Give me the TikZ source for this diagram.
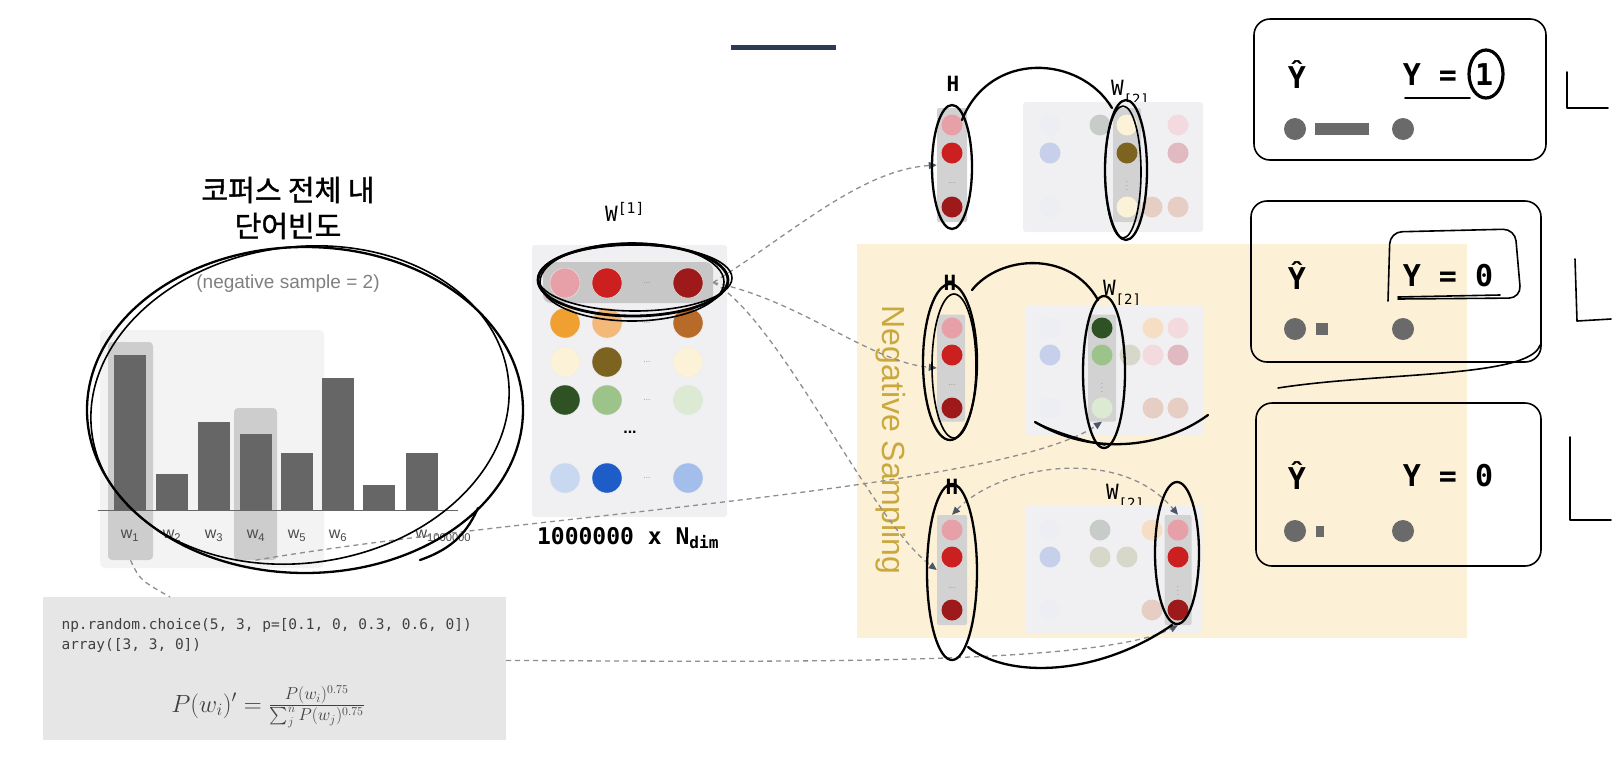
\documentclass[tikz,border=0pt]{standalone}
\usepackage{fontspec}
\setmainfont{Liberation Sans}
\setmonofont{DejaVu Sans Mono}
\newfontfamily\krfont[FakeBold=1.3]{Noto Sans CJK KR}
\usepackage{amsmath}
\usetikzlibrary{arrows.meta}

\definecolor{barc}{HTML}{666666}
\definecolor{hlc}{HTML}{CDCDCD}
\definecolor{histbg}{HTML}{F3F3F3}
\definecolor{matc}{HTML}{F0F0F2}
\definecolor{colc}{HTML}{D2D2D2}
\definecolor{yel}{HTML}{FCF1D6}
\definecolor{nsc}{HTML}{C9A83E}
\definecolor{codebg}{HTML}{E6E6E6}
\definecolor{linkc}{HTML}{8E8E8E}
\definecolor{tipc}{HTML}{4C5666}
\definecolor{outc}{HTML}{6A6A6A}
\definecolor{navy}{HTML}{2C3A55}
% vector colours
\definecolor{pk}{HTML}{E8A0A8}
\definecolor{rd}{HTML}{CC2020}
\definecolor{dr}{HTML}{9E1A1A}
\definecolor{org}{HTML}{F0A030}
\definecolor{lo}{HTML}{F4B878}
\definecolor{brn}{HTML}{B86A28}
\definecolor{cr}{HTML}{FCF2D8}
\definecolor{ol}{HTML}{7C6420}
\definecolor{dg}{HTML}{2E5224}
\definecolor{lg}{HTML}{9CC48A}
\definecolor{pg}{HTML}{DCEAD4}
\definecolor{lb}{HTML}{C8D8F0}
\definecolor{bl}{HTML}{1E5CC8}
\definecolor{mb}{HTML}{A4BEEC}
% faded colours
\definecolor{fa}{HTML}{ECEEF4}
\definecolor{fb}{HTML}{C6D0EA}
\definecolor{fc}{HTML}{C8CCC8}
\definecolor{fd}{HTML}{E6CEC4}
\definecolor{fe}{HTML}{F2DADF}
\definecolor{ff}{HTML}{E0B9C1}
\definecolor{fg}{HTML}{F6DEC4}
\definecolor{fi}{HTML}{D8D8CA}

\begin{document}
\begin{tikzpicture}[x=1pt, y=-1pt, font=\fontsize{14}{16}\selectfont,
  bar/.style={fill=barc},
  hilite/.style={fill=hlc, rounded corners=4pt, inner sep=0pt},
  bigdot/.style={circle, minimum size=30pt, inner sep=0pt, draw=black!8},
  smdot/.style={circle, minimum size=21pt, inner sep=0pt},
  outdot/.style={circle, fill=outc, minimum size=22pt, inner sep=0pt},
  col/.style={fill=colc, inner sep=0pt, rounded corners=2pt},
  lbl/.style={font=\ttfamily\fontsize{21}{21}\selectfont},
  outlbl/.style={font=\ttfamily\bfseries\fontsize{30}{30}\selectfont},
  tiny/.style={text=black!45, font=\fontsize{8}{8}\selectfont},
  link/.style={draw=linkc, dash pattern=on 5pt off 4pt, line width=1.3pt},
  tip/.style={-{Triangle[length=8pt, width=7pt, color=tipc]}},
  hand/.style={draw=black, line width=2.3pt, line cap=round, line join=round}]

\useasboundingbox (0,0) rectangle (1614,756);
\fill[white] (0,0) rectangle (1614,756);
\fill[navy] (731,45) rectangle (836,50);

% ---- word frequency ---------------------------------------------------------------
\node[font=\krfont\fontsize{29}{36}\selectfont, align=center] (title) at (288,208)
  {코퍼스 전체 내\\단어빈도};
\node[text=black!50, font=\fontsize{19}{19}\selectfont] (neg) at (288,284) {(negative sample = 2)};
\fill[histbg, rounded corners=5pt] (100,330) rectangle (324,568);
\node[hilite, minimum width=45pt, minimum height=218pt] (hl1) at (130.5,451) {};
\node[hilite, minimum width=43pt, minimum height=152pt] (hl4) at (255.5,484) {};
\foreach \x/\t in {114/355,156/474,198/422,240/434,281/453,322/378,363/485,406/453}
  \fill[bar] (\x,\t) rectangle (\x+32,510);
\draw[barc, line width=1pt] (98,510) -- (458,510);
\foreach \x/\i in {130/1,172/2,214/3,256/4,297/5,338/6}
  \node[text=black!70, font=\fontsize{16}{16}\selectfont] at (\x,536) {w\textsubscript{\i}};
\node[text=black!70, anchor=west, font=\fontsize{16}{16}\selectfont] at (412,536) {w\textsubscript{1000000}};

% ---- sampling code -----------------------------------------------------------------
\node[fill=codebg, minimum width=463pt, minimum height=143pt, inner sep=0pt] (code) at (274.5,668.5) {};
\node[anchor=west, text=black!75, font=\ttfamily\fontsize{14.5}{14.5}\selectfont] at (58,625)
  {np.random.choice(5, 3, p=[0.1, 0, 0.3, 0.6, 0])};
\node[anchor=west, text=black!75, font=\ttfamily\fontsize{14.5}{14.5}\selectfont] at (58,645)
  {array([3, 3, 0])};
\node[text=black!75, font=\fontsize{24}{24}\selectfont] at (268,707)
  {$P(w_i)' = \frac{P(w_i)^{0.75}}{\sum_j^n P(w_j)^{0.75}}$};
\coordinate (codein) at (170,597);

% ---- W[1] --------------------------------------------------------------------------
\node[lbl] (w1lbl) at (625,212) {W\textsuperscript{[1]}};
\fill[matc, rounded corners=3pt] (532,245) rectangle (727,517);
\node[fill=black!22, rounded corners=8pt, minimum width=170pt, minimum height=41pt] (row1) at (628,282.5) {};
\foreach \y/\a/\b/\c in {283/pk/rd/dr,323/org/lo/brn,362/cr/ol/cr,400/dg/lg/pg,478/lb/bl/mb} {
  \node[bigdot, fill=\a] at (565,\y) {};
  \node[bigdot, fill=\b] at (607,\y) {};
  \node[bigdot, fill=\c] at (688,\y) {};
  \node[tiny] at (647,\y) {...};
}
\node[font=\bfseries\fontsize{16}{16}\selectfont] at (630,432) {...};
\node[font=\ttfamily\bfseries\fontsize{23}{23}\selectfont] (dim) at (628,538) {1000000 x N\textsubscript{dim}};

% ---- negative sampling -------------------------------------------------------------
\fill[yel] (857,244) rectangle (1467,638);
\node[rotate=-90, text=nsc, font=\fontsize{32}{32}\selectfont] (ns) at (891,440) {Negative Sampling};

% row A
\node[lbl, font=\ttfamily\bfseries\fontsize{21}{21}\selectfont] at (953,84) {H};
\node[lbl] at (1130,93) {W\raisebox{-9pt}{\fontsize{14}{14}\selectfont[2]}};
\fill[matc, rounded corners=3pt] (1023,102) rectangle (1203,232);
\node[col, minimum width=30pt, minimum height=114pt] (hA) at (952,165) {};
\node[col, minimum width=28pt, minimum height=114pt] (wA) at (1127,165) {};
\foreach \x/\y/\c in {1050/125/fa,1050/153/fb,1050/207/fa,1100/125/fc,1152/207/fd,1178/125/fe,1178/153/ff,1178/207/fd}
  \node[smdot, fill=\c] at (\x,\y) {};
\foreach \y/\a/\b in {125/pk/cr,153/rd/ol,207/dr/cr} {
  \node[smdot, fill=\a] at (952,\y) {};
  \node[smdot, fill=\b] at (1127,\y) {};
}
\node[tiny] at (952,183) {...};
\node[tiny] at (1127,183) {$\vdots$};

% row B
\node[lbl, font=\ttfamily\bfseries\fontsize{21}{21}\selectfont] at (950,283) {H};
\node[lbl] at (1122,293) {W\raisebox{-9pt}{\fontsize{14}{14}\selectfont[2]}};
\fill[matc, rounded corners=3pt] (1025,305) rectangle (1203,435);
\node[col, minimum width=28pt, minimum height=107pt] (hB) at (951,368) {};
\node[col, minimum width=28pt, minimum height=107pt] (wB) at (1102,368) {};
\foreach \x/\y/\c in {1050/328/fa,1050/355/fb,1050/408/fa,1130/355/fi,1153/328/fg,1153/355/fe,1153/408/fd,1178/328/fe,1178/355/ff,1178/408/fd}
  \node[smdot, fill=\c] at (\x,\y) {};
\foreach \y/\a/\b in {328/pk/dg,355/rd/lg,408/dr/pg} {
  \node[smdot, fill=\a] at (952,\y) {};
  \node[smdot, fill=\b] at (1102,\y) {};
}
\node[tiny] at (952,385) {...};
\node[tiny] at (1102,385) {$\vdots$};

% row C
\node[lbl, font=\ttfamily\bfseries\fontsize{21}{21}\selectfont] at (952,487) {H};
\node[lbl] at (1125,497) {W\raisebox{-9pt}{\fontsize{14}{14}\selectfont[2]}};
\fill[matc, rounded corners=3pt] (1025,505) rectangle (1202,633);
\node[col, minimum width=30pt, minimum height=110pt] (hC) at (952,570) {};
\node[col, minimum width=27pt, minimum height=110pt] (wC) at (1178,570) {};
\foreach \x/\y/\c in {1050/530/fa,1050/557/fb,1050/610/fa,1100/530/fc,1100/557/fi,1127/557/fi,1152/530/fg,1152/610/fd}
  \node[smdot, fill=\c] at (\x,\y) {};
\foreach \y/\a in {530/pk,557/rd,610/dr} {
  \node[smdot, fill=\a] at (952,\y) {};
  \node[smdot, fill=\a] at (1178,\y) {};
}
\node[tiny] at (952,588) {...};
\node[tiny] at (1178,588) {$\vdots$};

% ---- outputs -----------------------------------------------------------------------
\node[outlbl] (yhA) at (1297,75) {Ŷ};
\node[outlbl] (yA) at (1448,75) {Y = 1};
\node[outdot] at (1295,129) {};
\fill[outc] (1315,123) rectangle (1369,135);
\node[outdot] at (1403,129) {};

\node[outlbl] (yhB) at (1297,276) {Ŷ};
\node[outlbl] (yB) at (1448,276) {Y = 0};
\node[outdot] at (1295,329) {};
\fill[outc] (1316,323) rectangle (1328,335);
\node[outdot] at (1403,329) {};

\node[outlbl] (yhC) at (1297,476) {Ŷ};
\node[outlbl] (yC) at (1448,476) {Y = 0};
\node[outdot] at (1295,531) {};
\fill[outc] (1316,526) rectangle (1324,537);
\node[outdot] at (1403,531) {};

% ---- dashed links ------------------------------------------------------------------
\draw[link, tip] (row1.east) .. controls (790,235) and (860,170) .. (hA.west);
\draw[link, tip] (row1.east) .. controls (800,300) and (870,362) .. (hB.west);
\draw[link, tip] (row1.east) .. controls (780,320) and (870,520) .. (hC.west);
\draw[link, tip] (hl4.south) .. controls (520,515) and (1000,490) .. (wB.south);
\draw[link, tip] (code.2) .. controls (800,662) and (1100,665) .. (wC.south);
\draw[link] (hl1.south) .. controls (140,580) .. (codein);
\draw[link, {Triangle[length=8pt, width=7pt, color=tipc]}-{Triangle[length=8pt, width=7pt, color=tipc]}]
  (hC.north) .. controls (1000,465) and (1120,445) .. (wC.north);

% ---- pen marks ---------------------------------------------------------------------
\draw[hand] (305,410) ellipse [x radius=218, y radius=163];
\draw[hand, line width=1.6pt, rotate around={8:(300,405)}] (300,405) ellipse [x radius=210, y radius=158];
\draw[hand] (478,508) .. controls (468,530) and (455,548) .. (420,560);
\draw[hand, line width=2.8pt] (633,280) ellipse [x radius=95, y radius=36];
\draw[hand, line width=1.6pt] (632,282) ellipse [x radius=92, y radius=39];
\draw[hand, line width=1.6pt] (635,278) ellipse [x radius=97, y radius=33];

\draw[hand] (952,167) ellipse [x radius=20, y radius=62];
\draw[hand] (1126,170) ellipse [x radius=21, y radius=70];
\draw[hand, line width=1.6pt] (1123,172) ellipse [x radius=18, y radius=66];
\draw[hand] (962,120) .. controls (990,50) and (1080,55) .. (1112,108);

\draw[hand] (950,362) ellipse [x radius=27, y radius=78];
\draw[hand, line width=1.6pt] (954,366) ellipse [x radius=22, y radius=72];
\draw[hand] (1104,372) ellipse [x radius=21, y radius=76];
\draw[hand] (972,290) .. controls (1000,255) and (1070,250) .. (1098,300);
\draw[hand] (1035,422) .. controls (1090,455) and (1160,450) .. (1208,415);
\draw[hand, line width=1.6pt] (1035,422) .. controls (1050,430) and (1080,440) .. (1105,445);

\draw[hand] (952,572) ellipse [x radius=25, y radius=88];
\draw[hand] (1177,553) ellipse [x radius=22, y radius=71];
\draw[hand] (968,647) .. controls (1010,680) and (1100,675) .. (1172,625);

\draw[hand, line width=1.6pt, rounded corners=16pt] (1254,19) rectangle (1546,160);
\draw[hand, line width=1.6pt, rounded corners=16pt] (1251,201) rectangle (1541,362);
\draw[hand, line width=1.6pt, rounded corners=16pt] (1256,403) rectangle (1541,566);
\draw[hand, line width=1.6pt, rounded corners=12pt] (1388,301) -- (1390,232) -- (1515,229) -- (1521,298) -- (1398,299);
\draw[hand, line width=3.2pt] (1486,74) ellipse [x radius=17, y radius=24];
\draw[hand, line width=1.6pt] (1405,98) -- (1470,98);
\draw[hand, line width=1.6pt] (1398,297) -- (1500,295);
\draw[hand, line width=1.6pt] (1540,345) .. controls (1530,378) and (1380,372) .. (1278,388);
\draw[hand, line width=1.6pt] (1567,72) -- (1567,108) -- (1608,108);
\draw[hand, line width=1.6pt] (1575,259) -- (1577,321) -- (1611,319);
\draw[hand, line width=1.6pt] (1570,437) -- (1570,520) -- (1611,520);

\end{tikzpicture}
\end{document}
